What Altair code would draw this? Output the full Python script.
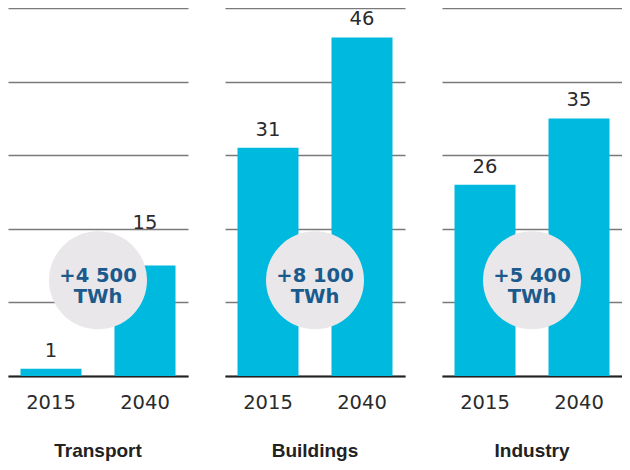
import altair as alt
import pandas as pd

categories = ["Transport", "Buildings", "Industry"]
years = ["2015", "2040"]
values_2015 = [1, 31, 26]
values_2040 = [15, 46, 35]
increase = ["+4 500", "+8 100", "+5 400"]
unit = "TWh"

bars_df = pd.DataFrame({
    "category": [c for c in categories for _ in years],
    "year": years * len(categories),
    "value": [v for pair in zip(values_2015, values_2040) for v in pair],
})
circ_df = pd.DataFrame({"category": categories, "line1": increase, "line2": [unit] * 3})

W, H = 180, 368
BAR = "#00b9df"
CIRC = "#e9e7e9"
BLUE = "#1b5a8c"
TXT = "#2b2b2b"

yscale = alt.Scale(domain=[0, 50], nice=False)


def panel(cat):
    b = bars_df[bars_df.category == cat]
    c = circ_df[circ_df.category == cat]
    xenc = alt.X(
        "year:N",
        title=None,
        scale=alt.Scale(paddingInner=0.351, paddingOuter=0.133),
        axis=alt.Axis(
            labelAngle=0, ticks=False, domainColor="#222222", domainWidth=2.2,
            labelFont="DejaVu Sans", labelFontSize=19.5, labelColor=TXT,
            labelPadding=17, grid=False,
        ),
    )
    bars = alt.Chart(b).mark_bar(color=BAR).encode(
        x=xenc,
        y=alt.Y(
            "value:Q", scale=yscale, title=None,
            axis=alt.Axis(values=[0, 10, 20, 30, 40, 50], labels=False, ticks=False,
                          domain=False, grid=True, gridColor="#7a7a7a", gridWidth=1.3),
        ),
    )
    labels = alt.Chart(b).transform_calculate(
        pos="datum.category == 'Transport' && datum.year == '2040' ? 18.3 : datum.value"
    ).mark_text(
        dy=-12, baseline="alphabetic", font="DejaVu Sans", fontSize=19.5, color=TXT
    ).encode(
        x=alt.X("year:N"),
        y=alt.Y("pos:Q", scale=yscale),
        text="value:Q",
    )
    circle = alt.Chart(c).mark_circle(size=9604, color=CIRC, opacity=1).encode(
        x=alt.value(W / 2), y=alt.datum(13)
    )
    ctext = alt.Chart(c).transform_calculate(
        lbl="datum.line1 + '\\n' + datum.line2"
    ).mark_text(
        dy=2, baseline="alphabetic", lineBreak="\n", lineHeight=21,
        font="DejaVu Sans", fontWeight="bold", fontSize=19.5, color=BLUE
    ).encode(x=alt.value(W / 2), y=alt.datum(13), text="lbl:N")
    return alt.layer(bars, labels, circle, ctext).properties(
        width=W, height=H,
        title=alt.TitleParams(
            text=cat, orient="bottom", font="Liberation Sans", fontSize=19,
            fontWeight="bold", color="#222222", offset=30, anchor="middle",
        ),
    )


chart = alt.hconcat(*[panel(c) for c in categories], spacing=37).configure(
    padding=0, background="white"
).configure_view(stroke=None)

chart.save("out.html", embed_options={"renderer": "svg", "actions": False})
